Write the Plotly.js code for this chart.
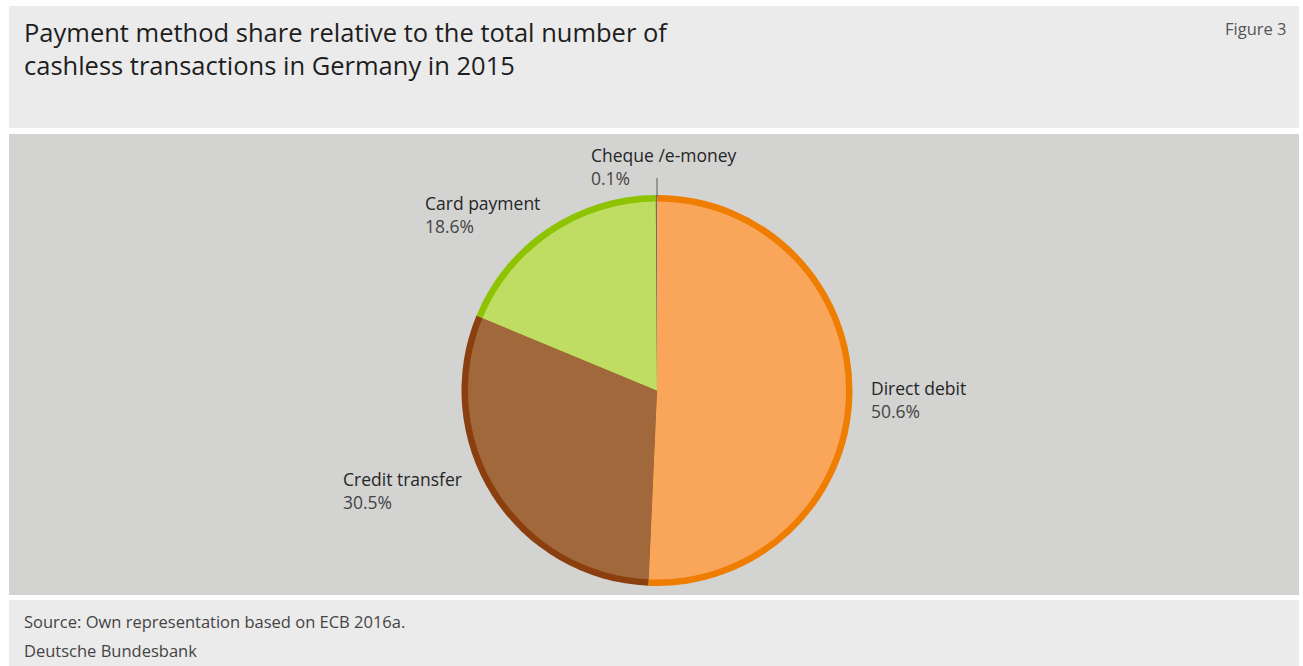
<!DOCTYPE html>
<html>
<head>
<meta charset="utf-8">
<script src="https://cdn.plot.ly/plotly-3.0.1.min.js"></script>
<style>
html,body{margin:0;padding:0;background:#fff;}
#chart{width:1303px;height:666px;}
</style>
</head>
<body>
<div id="chart"></div>
<script>
// Data
const categories = ["Direct debit", "Credit transfer", "Card payment", "Cheque /e-money"];
const shares = [50.6, 30.5, 18.6, 0.1];
const shareLabels = ["50.6%", "30.5%", "18.6%", "0.1%"];
const borderColors = ["#ef7d00", "#8c3f0e", "#8dc300", "#6e6e6e"];
const fillColors = ["#f9a55a", "#a1693b", "#bedd62", "#6e6e6e"];
const titleText = "Payment method share relative to the total number of<br>cashless transactions in Germany in 2015";
const figureText = "Figure 3";
const sourceLines = ["Source: Own representation based on ECB 2016a.", "Deutsche Bundesbank"];

const W = 1303, H = 666;
const cx = 657, cy = 390.5, R = 195.5, border = 6.5;
function dom(r) {
  return {
    x: [(cx - r) / W, (cx + r) / W],
    y: [(H - cy - r) / H, (H - cy + r) / H]
  };
}

const common = {
  type: "pie",
  values: shares,
  labels: categories,
  sort: false,
  direction: "clockwise",
  rotation: 0,
  textinfo: "none",
  hoverinfo: "label+percent",
  showlegend: false
};

const traces = [
  Object.assign({}, common, {
    domain: dom(R),
    marker: {colors: borderColors, line: {width: 0}}
  }),
  Object.assign({}, common, {
    domain: dom(R - border),
    marker: {colors: fillColors, line: {width: 0}}
  })
];

const labelPos = [
  {x: 869, y: 388},
  {x: 341, y: 479},
  {x: 423, y: 203},
  {x: 589, y: 155}
];

const annotations = [];
categories.forEach((c, i) => {
  annotations.push({
    xref: "paper", yref: "paper",
    x: labelPos[i].x / W, y: 1 - labelPos[i].y / H,
    xanchor: "left", yanchor: "middle",
    align: "left", showarrow: false,
    text: c,
    font: {family: "Open Sans", size: 17.5, color: "#262626"}
  });
  annotations.push({
    xref: "paper", yref: "paper",
    x: labelPos[i].x / W, y: 1 - (labelPos[i].y + 23) / H,
    xanchor: "left", yanchor: "middle",
    align: "left", showarrow: false,
    text: shareLabels[i],
    font: {family: "Open Sans", size: 17.5, color: "#444444"}
  });
});

annotations.push({
  xref: "paper", yref: "paper", x: 22 / W, y: 1 - 49 / H,
  xanchor: "left", yanchor: "middle", align: "left", showarrow: false,
  text: titleText,
  font: {family: "Open Sans", size: 25.5, color: "#1e1e1e"}
});
annotations.push({
  xref: "paper", yref: "paper", x: 1289 / W, y: 1 - 29 / H,
  xanchor: "right", yanchor: "middle", showarrow: false,
  text: figureText,
  font: {family: "Open Sans", size: 16.5, color: "#555555"}
});
annotations.push({
  xref: "paper", yref: "paper", x: 22 / W, y: 1 - 621 / H,
  xanchor: "left", yanchor: "middle", showarrow: false,
  text: sourceLines[0],
  font: {family: "Open Sans", size: 16.5, color: "#444444"}
});
annotations.push({
  xref: "paper", yref: "paper", x: 22 / W, y: 1 - 650 / H,
  xanchor: "left", yanchor: "middle", showarrow: false,
  text: sourceLines[1],
  font: {family: "Open Sans", size: 16.5, color: "#444444"}
});

const shapes = [
  {type: "rect", xref: "paper", yref: "paper", layer: "below",
   x0: 9 / W, x1: 1299 / W, y0: 1 - 128 / H, y1: 1 - 6 / H,
   fillcolor: "#ebebeb", line: {width: 0}},
  {type: "rect", xref: "paper", yref: "paper", layer: "below",
   x0: 9 / W, x1: 1299 / W, y0: 1 - 595 / H, y1: 1 - 134 / H,
   fillcolor: "#d3d3d2", line: {width: 0}},
  {type: "rect", xref: "paper", yref: "paper", layer: "below",
   x0: 9 / W, x1: 1299 / W, y0: 0, y1: 1 - 600 / H,
   fillcolor: "#ebebeb", line: {width: 0}},
  {type: "line", xref: "paper", yref: "paper",
   x0: cx / W, x1: cx / W, y0: 1 - (cy - R + 2) / H, y1: 1 - 178 / H,
   line: {color: "#6e6e6e", width: 1.2}}
];

const layout = {
  width: W, height: H,
  margin: {l: 0, r: 0, t: 0, b: 0},
  paper_bgcolor: "#ffffff",
  plot_bgcolor: "#ffffff",
  showlegend: false,
  annotations: annotations,
  shapes: shapes
};

Plotly.newPlot("chart", traces, layout, {displayModeBar: false, staticPlot: true});
</script>
</body>
</html>
